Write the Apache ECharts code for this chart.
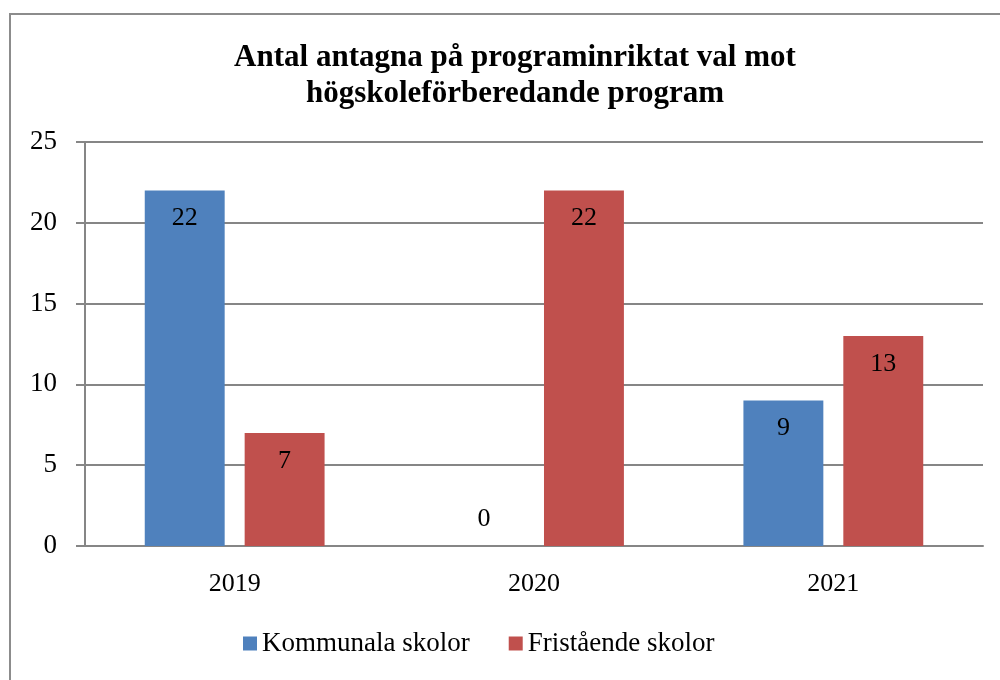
<!DOCTYPE html>
<html>
<head>
<meta charset="utf-8">
<script src="https://cdn.jsdelivr.net/npm/echarts@6/dist/echarts.min.js"></script>
<style>
html, body { margin: 0; padding: 0; background: #fff; }
#container { width: 1000px; height: 680px; }
</style>
</head>
<body>
<div id="container"></div>
<script>
var years = ['2019', '2020', '2021'];
var kommunala = [22, 0, 9];
var fristaende = [7, 22, 13];
var seriesNames = ['Kommunala skolor', 'Fristående skolor'];

var serif = '"Liberation Serif", "DejaVu Serif", serif';

function barData(values) {
    // a zero bar gets its label above the axis, like the original
    return values.map(function (v) {
        if (v === 0) {
            return { value: v, label: { position: 'top', distance: 14 } };
        }
        return v;
    });
}

window.onload = function()
{
var myChart = echarts.init(document.getElementById('container'));
var option = {
    animation: false,
    backgroundColor: '#fff',
    title: {
        text: 'Antal antagna på programinriktat val mot\nhögskoleförberedande program',
        left: 510,
        textAlign: 'center',
        top: 35,
        textStyle: {
            fontFamily: serif,
            fontWeight: 'bold',
            fontSize: 31,
            lineHeight: 36,
            color: '#000'
        }
    },
    legend: {
        top: 625,
        left: 238,
        itemWidth: 14,
        itemHeight: 14,
        itemGap: 39,
        icon: 'rect',
        data: seriesNames,
        textStyle: {
            fontFamily: serif,
            fontSize: 27,
            color: '#000'
        }
    },
    graphic: [{
        type: 'polyline',
        shape: { points: [[10, 700], [10, 14], [1010, 14]] },
        style: { stroke: '#8c8c8c', lineWidth: 2, fill: null }
    }],
    grid: {
        left: 85,
        right: 17,
        top: 142,
        bottom: 134,
        containLabel: false
    },
    xAxis: {
        type: 'category',
        data: years,
        axisLine: { lineStyle: { color: '#868686', width: 2 } },
        axisTick: { show: false },
        axisLabel: {
            fontFamily: serif,
            fontSize: 26,
            color: '#000',
            margin: 25
        }
    },
    yAxis: {
        type: 'value',
        min: 0,
        max: 25,
        interval: 5,
        axisLine: { show: true, lineStyle: { color: '#868686', width: 2 } },
        axisTick: { show: true, length: 9, lineStyle: { color: '#868686', width: 2 } },
        splitLine: { lineStyle: { color: '#868686', width: 2 } },
        axisLabel: {
            fontFamily: serif,
            fontSize: 27,
            color: '#000',
            margin: 28
        }
    },
    series: [
        {
            name: seriesNames[0],
            type: 'bar',
            data: barData(kommunala),
            barWidth: '26.7%',
            barGap: '25%',
            itemStyle: { color: '#4f81bd' },
            label: {
                show: true,
                position: 'insideTop',
                distance: 15,
                fontFamily: serif,
                fontSize: 26,
                color: '#000'
            }
        },
        {
            name: seriesNames[1],
            type: 'bar',
            data: barData(fristaende),
            barWidth: '26.7%',
            barGap: '25%',
            itemStyle: { color: '#c0504d' },
            label: {
                show: true,
                position: 'insideTop',
                distance: 15,
                fontFamily: serif,
                fontSize: 26,
                color: '#000'
            }
        }
    ]
};

myChart.setOption(option);
};
</script>
</body>
</html>
